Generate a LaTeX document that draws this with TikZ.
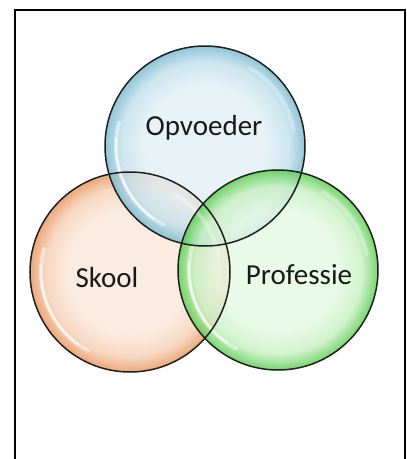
\documentclass[tikz,border=0pt]{standalone}
\usepackage{fontspec}
\setmainfont{Carlito}
\definecolor{bIn}{RGB}{226,239,245}
\definecolor{bMid}{RGB}{196,225,236}
\definecolor{bOut}{RGB}{120,185,208}
\definecolor{oIn}{RGB}{251,233,220}
\definecolor{oMid}{RGB}{246,210,184}
\definecolor{oOut}{RGB}{232,150,95}
\definecolor{gIn}{RGB}{230,249,228}
\definecolor{gMid}{RGB}{200,240,194}
\definecolor{gOut}{RGB}{90,205,80}
\pgfdeclareradialshading{bubB}{\pgfpoint{0bp}{0bp}}{color(0bp)=(bIn); color(15bp)=(bIn); color(21bp)=(bMid); color(25bp)=(bOut); color(50bp)=(bOut)}
\pgfdeclareradialshading{bubO}{\pgfpoint{0bp}{0bp}}{color(0bp)=(oIn); color(15bp)=(oIn); color(21bp)=(oMid); color(25bp)=(oOut); color(50bp)=(oOut)}
\pgfdeclareradialshading{bubG}{\pgfpoint{0bp}{0bp}}{color(0bp)=(gIn); color(15bp)=(gIn); color(21bp)=(gMid); color(25bp)=(gOut); color(50bp)=(gOut)}
\tikzset{
  bubble/.style={circle, minimum size=200pt, inner sep=0pt, fill opacity=0.82},
  rim/.style={draw=black!88, line width=1.5pt},
  shine/.style={draw=white, line width=4pt, opacity=0.45, line cap=round},
  shinecore/.style={draw=white, line width=1.6pt, opacity=0.8, line cap=round},
  label/.style={font=\fontsize{29}{30}\selectfont, anchor=base, text=black!90},
  frame/.style={line width=2pt}
}
\begin{document}
\begin{tikzpicture}[x=1pt,y=-1pt]
\useasboundingbox (0,0) rectangle (407,459);
\fill[white] (0,0) rectangle (407,459);
\draw[frame] (15,460) -- (15,10) -- (405,10) -- (405,460);
% circles
\node[bubble, shading=bubO] (skool) at (130,272) {};
\node[bubble, shading=bubB] (opv) at (205,146) {};
\node[bubble, shading=bubG] (prof) at (278,270) {};
% highlights
\foreach \c in {skool,opv,prof}{
  \draw[shine] (\c.center) ++(118:89) arc[start angle=118, end angle=195, radius=89];
  \draw[shinecore] (\c.center) ++(125:89) arc[start angle=125, end angle=185, radius=89];
  \draw[shine, opacity=0.3] (\c.center) ++(-10:90) arc[start angle=-10, end angle=-60, radius=90];
}
% rims
\draw[rim] (skool) circle[radius=100];
\draw[rim] (opv) circle[radius=100];
\draw[rim] (prof) circle[radius=100];
% labels
\node[label] (topt) at (204,135) {Opvoeder};
\node[label] (skt) at (107,287) {Skool};
\node[label] (prt) at (299,284) {Professie};
\end{tikzpicture}
\end{document}
